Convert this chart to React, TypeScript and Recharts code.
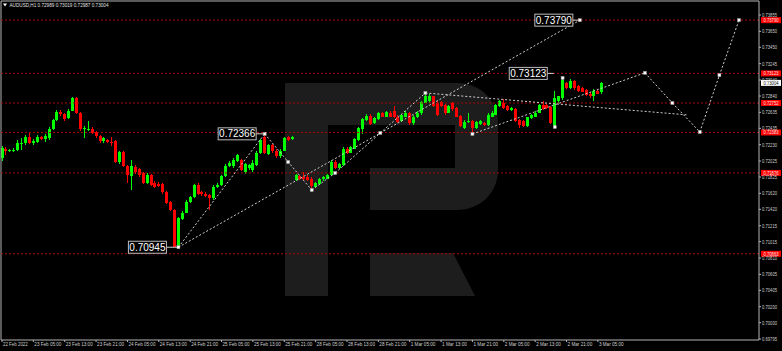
import React from 'react';
import { ComposedChart, Bar, XAxis, YAxis, ReferenceLine, ReferenceDot } from 'recharts';

const opens = [
  0.72063, 0.72176, 0.72157, 0.72151, 0.72163, 0.72245, 0.72251, 0.72327, 0.72251, 0.72264,
  0.72320, 0.72302, 0.72314, 0.72427, 0.72533, 0.72640, 0.72615, 0.72564, 0.72658, 0.72815,
  0.72627, 0.72427, 0.72421, 0.72427, 0.72389, 0.72339, 0.72270, 0.72289, 0.72264, 0.72270,
  0.72013, 0.72138, 0.71957, 0.71838, 0.71950, 0.71925, 0.71875, 0.71750, 0.71850, 0.71750,
  0.71737, 0.71737, 0.71637, 0.71512, 0.71411, 0.70948, 0.71299, 0.71380, 0.71506, 0.71575,
  0.71731, 0.71631, 0.71612, 0.71600, 0.71556, 0.71706, 0.71731, 0.71838, 0.71969, 0.71957,
  0.72026, 0.72038, 0.71888, 0.71938, 0.71913, 0.71975, 0.72126, 0.72327, 0.72113, 0.72226,
  0.72157, 0.72082, 0.72157, 0.72320, 0.72295, 0.71787, 0.71838, 0.71825, 0.71819, 0.71806,
  0.71706, 0.71737, 0.71794, 0.71806, 0.71850, 0.72019, 0.71944, 0.71975, 0.72182, 0.72132,
  0.72182, 0.72289, 0.72427, 0.72539, 0.72590, 0.72496, 0.72546, 0.72621, 0.72583, 0.72633,
  0.72652, 0.72583, 0.72521, 0.72583, 0.72621, 0.72496, 0.72571, 0.72621, 0.72758, 0.72771,
  0.72834, 0.72746, 0.72765, 0.72727, 0.72633, 0.72746, 0.72684, 0.72590, 0.72433, 0.72508,
  0.72521, 0.72433, 0.72489, 0.72496, 0.72477, 0.72583, 0.72608, 0.72709, 0.72758, 0.72709,
  0.72665, 0.72677, 0.72539, 0.72521, 0.72458, 0.72558, 0.72583, 0.72633, 0.72727, 0.72721,
  0.72696, 0.72458, 0.72771, 0.72809, 0.72997, 0.72934, 0.73028, 0.72959, 0.72934, 0.72915,
  0.72871, 0.72846, 0.72903, 0.72884,
];
const highs = [
  0.72214, 0.72201, 0.72176, 0.72189, 0.72289, 0.72314, 0.72352, 0.72377, 0.72302, 0.72352,
  0.72340, 0.72364, 0.72452, 0.72552, 0.72665, 0.72665, 0.72627, 0.72677, 0.72828, 0.72828,
  0.72640, 0.72464, 0.72521, 0.72452, 0.72402, 0.72352, 0.72327, 0.72302, 0.72327, 0.72289,
  0.72151, 0.72151, 0.71975, 0.72038, 0.71975, 0.71938, 0.71888, 0.71875, 0.71863, 0.71775,
  0.71763, 0.71750, 0.71650, 0.71524, 0.71424, 0.71324, 0.71399, 0.71537, 0.71587, 0.71737,
  0.71750, 0.71650, 0.71637, 0.71612, 0.71725, 0.71750, 0.71850, 0.71988, 0.72026, 0.72063,
  0.72113, 0.72050, 0.72000, 0.71988, 0.72038, 0.72151, 0.72302, 0.72366, 0.72239, 0.72239,
  0.72170, 0.72176, 0.72327, 0.72333, 0.72333, 0.71863, 0.71850, 0.71888, 0.71850, 0.71825,
  0.71763, 0.71812, 0.71838, 0.71863, 0.72038, 0.72038, 0.72000, 0.72201, 0.72201, 0.72214,
  0.72314, 0.72452, 0.72564, 0.72615, 0.72615, 0.72577, 0.72640, 0.72640, 0.72658, 0.72652,
  0.72715, 0.72596, 0.72615, 0.72652, 0.72640, 0.72596, 0.72652, 0.72778, 0.72882, 0.72859,
  0.72846, 0.72771, 0.72778, 0.72740, 0.72727, 0.72765, 0.72696, 0.72602, 0.72539, 0.72627,
  0.72539, 0.72527, 0.72539, 0.72508, 0.72627, 0.72652, 0.72740, 0.72784, 0.72802, 0.72727,
  0.72702, 0.72690, 0.72552, 0.72533, 0.72583, 0.72615, 0.72652, 0.72740, 0.72778, 0.72740,
  0.72709, 0.72902, 0.72846, 0.73066, 0.73016, 0.73053, 0.73041, 0.72978, 0.72947, 0.72928,
  0.72884, 0.72922, 0.72915, 0.73019,
];
const lows = [
  0.72026, 0.72101, 0.72138, 0.72138, 0.72151, 0.72163, 0.72226, 0.72239, 0.72226, 0.72251,
  0.72289, 0.72264, 0.72289, 0.72414, 0.72527, 0.72590, 0.72527, 0.72552, 0.72665, 0.72615,
  0.72402, 0.72308, 0.72402, 0.72364, 0.72314, 0.72251, 0.72251, 0.72245, 0.72214, 0.72000,
  0.71988, 0.71950, 0.71750, 0.71662, 0.71863, 0.71825, 0.71737, 0.71737, 0.71712, 0.71687,
  0.71700, 0.71612, 0.71486, 0.71399, 0.70942, 0.70945, 0.71286, 0.71374, 0.71499, 0.71562,
  0.71600, 0.71587, 0.71575, 0.71411, 0.71537, 0.71687, 0.71712, 0.71825, 0.71950, 0.71938,
  0.72013, 0.71900, 0.71863, 0.71913, 0.71888, 0.71963, 0.72113, 0.72113, 0.72101, 0.72132,
  0.72063, 0.72063, 0.72151, 0.72276, 0.72283, 0.71775, 0.71787, 0.71775, 0.71775, 0.71662,
  0.71687, 0.71725, 0.71781, 0.71794, 0.71838, 0.71925, 0.71925, 0.71963, 0.72113, 0.72120,
  0.72170, 0.72276, 0.72364, 0.72527, 0.72477, 0.72483, 0.72533, 0.72571, 0.72571, 0.72571,
  0.72558, 0.72502, 0.72508, 0.72571, 0.72477, 0.72477, 0.72558, 0.72608, 0.72746, 0.72758,
  0.72702, 0.72590, 0.72696, 0.72608, 0.72621, 0.72658, 0.72571, 0.72446, 0.72421, 0.72496,
  0.72364, 0.72421, 0.72477, 0.72464, 0.72464, 0.72571, 0.72596, 0.72696, 0.72671, 0.72652,
  0.72652, 0.72508, 0.72439, 0.72446, 0.72446, 0.72546, 0.72571, 0.72621, 0.72665, 0.72671,
  0.72483, 0.72452, 0.72758, 0.72790, 0.72922, 0.72922, 0.72915, 0.72890, 0.72884, 0.72840,
  0.72815, 0.72778, 0.72859, 0.72871,
];
const closes = [
  0.72188, 0.72151, 0.72163, 0.72163, 0.72251, 0.72251, 0.72327, 0.72251, 0.72270, 0.72320,
  0.72302, 0.72333, 0.72427, 0.72539, 0.72640, 0.72615, 0.72552, 0.72658, 0.72815, 0.72627,
  0.72427, 0.72433, 0.72427, 0.72377, 0.72339, 0.72270, 0.72308, 0.72258, 0.72260, 0.72013,
  0.72138, 0.71957, 0.71850, 0.71963, 0.71882, 0.71850, 0.71756, 0.71850, 0.71731, 0.71706,
  0.71712, 0.71631, 0.71499, 0.71411, 0.70954, 0.71311, 0.71380, 0.71512, 0.71575, 0.71725,
  0.71612, 0.71606, 0.71587, 0.71556, 0.71706, 0.71731, 0.71838, 0.71969, 0.72000, 0.72038,
  0.72095, 0.71913, 0.71988, 0.71975, 0.72000, 0.72132, 0.72283, 0.72126, 0.72226, 0.72145,
  0.72082, 0.72157, 0.72308, 0.72289, 0.72320, 0.71850, 0.71806, 0.71794, 0.71787, 0.71712,
  0.71744, 0.71794, 0.71819, 0.71850, 0.72019, 0.71944, 0.71988, 0.72182, 0.72132, 0.72195,
  0.72295, 0.72433, 0.72546, 0.72590, 0.72489, 0.72558, 0.72621, 0.72583, 0.72640, 0.72583,
  0.72571, 0.72514, 0.72602, 0.72633, 0.72496, 0.72583, 0.72633, 0.72765, 0.72834, 0.72840,
  0.72715, 0.72602, 0.72709, 0.72621, 0.72715, 0.72671, 0.72583, 0.72458, 0.72508, 0.72521,
  0.72433, 0.72508, 0.72521, 0.72477, 0.72602, 0.72633, 0.72727, 0.72771, 0.72684, 0.72665,
  0.72684, 0.72521, 0.72477, 0.72458, 0.72571, 0.72602, 0.72633, 0.72727, 0.72677, 0.72684,
  0.72496, 0.72809, 0.72834, 0.73041, 0.72934, 0.73028, 0.72934, 0.72903, 0.72896, 0.72853,
  0.72834, 0.72903, 0.72871, 0.73004,
];

const xTickIndex = [0, 8, 16, 24, 32, 40, 48, 56, 64, 72, 80, 88, 96, 104, 112, 120, 128, 136, 144, 152];
const xTickLabels = [
  '22 Feb 2022', '23 Feb 05:00', '23 Feb 13:00', '23 Feb 21:00', '24 Feb 05:00', '24 Feb 13:00',
  '24 Feb 21:00', '25 Feb 05:00', '25 Feb 13:00', '25 Feb 21:00', '28 Feb 05:00', '28 Feb 13:00',
  '28 Feb 21:00', '1 Mar 05:00', '1 Mar 13:00', '1 Mar 21:00', '2 Mar 05:00', '2 Mar 13:00',
  '2 Mar 21:00', '3 Mar 05:00',
];
const yTicks = [
  0.73855, 0.7365, 0.7345, 0.73245, 0.7304, 0.7284, 0.72635, 0.72435, 0.7223, 0.72025, 0.71825,
  0.7162, 0.7142, 0.71215, 0.71015, 0.7081, 0.70605, 0.70405, 0.702, 0.7, 0.69795,
];
const levelPrices = [0.7379, 0.73123, 0.72752, 0.72383, 0.71876, 0.70863];
const currentPrice = 0.73004;
const headerText = 'AUDUSD,H1  0.72989 0.73019 0.72987 0.73004';

// wave / forecast lines: [index1, price1, index2, price2]
const waveSegments = [
  [45, 0.70945, 147.4, 0.7379],
  [45, 0.70945, 67, 0.72366],
  [67, 0.72366, 79, 0.71662],
  [79, 0.71662, 85, 0.71875],
  [85, 0.71875, 108, 0.72878],
  [108, 0.72878, 175, 0.72602],
  [120, 0.72364, 164, 0.7313],
  [164, 0.7313, 171, 0.72752],
  [171, 0.72752, 178, 0.72389],
  [178, 0.72389, 183, 0.731],
  [183, 0.731, 188, 0.7379],
];
const waveMarkers = [
  [45, 0.70945], [67, 0.72366], [73, 0.72013], [79, 0.71662], [85, 0.71875], [96.5, 0.72377],
  [108, 0.72878], [120, 0.72364], [141, 0.72452], [143, 0.73066], [147.4, 0.7379],
  [164, 0.7313], [171, 0.72752], [178, 0.72389], [183, 0.731], [188, 0.7379],
];
const waveLabels = [
  { i: 45, p: 0.70945, text: '0.70945' },
  { i: 67, p: 0.72366, text: '0.72366' },
  { i: 141, p: 0.73123, text: '0.73123' },
  { i: 147.4, p: 0.7379, text: '0.73790' },
];
const labelGaps = [12, 8.5, 7.5, 7];

const SLOTS = 193;
const X_MIN = -0.255;
const X_MAX = 193.1;
const Y_MIN = 0.69783;
const Y_MAX = 0.7403;

const rows = Array.from({ length: SLOTS }, (_, i) =>
  i < opens.length
    ? { i, o: opens[i], h: highs[i], l: lows[i], c: closes[i], range: [lows[i], highs[i]] }
    : { i, range: null }
);

const FONT = '"Liberation Sans", Arial, sans-serif';

const Candle = (props: any) => {
  const { x, y, width, height, payload } = props;
  if (!payload || payload.h == null) return null;
  const { o, c, h, l } = payload;
  const top = Math.min(y, y + height);
  const hh = Math.abs(height);
  const ppu = h - l > 0 ? hh / (h - l) : 0;
  const cx = Math.round(x + width / 2) + 0.5;
  const yO = top + (h - o) * ppu;
  const yC = top + (h - c) * ppu;
  const up = c >= o;
  const color = up ? '#00ff00' : '#ff0000';
  const bTop = Math.min(yO, yC);
  const bH = Math.max(1, Math.abs(yO - yC));
  return (
    <g shapeRendering="crispEdges">
      <line x1={cx} x2={cx} y1={top} y2={top + hh} stroke={color} strokeWidth={1} />
      <rect x={cx - 1.5} y={bTop} width={3} height={bH} fill={color} />
    </g>
  );
};

const YTick = (props: any) => {
  const { x, y, payload } = props;
  return (
    <text
      x={x}
      y={y + 2}
      fontSize={5.5}
      fill="#cfcfcf"
      fontFamily={FONT}
      textAnchor="start"
      textLength={15}
      lengthAdjust="spacingAndGlyphs"
    >
      {payload.value.toFixed(5)}
    </text>
  );
};

const XTick = (props: any) => {
  const { x, y, payload } = props;
  const k = xTickIndex.indexOf(payload.value);
  const s = k >= 0 ? xTickLabels[k] : '';
  return (
    <text
      x={x + 1}
      y={y + 4}
      fontSize={5.5}
      fill="#cfcfcf"
      fontFamily={FONT}
      textAnchor="start"
      textLength={s.length * 2.25}
      lengthAdjust="spacingAndGlyphs"
    >
      {s}
    </text>
  );
};

const RightTag = (props: any) => {
  const { viewBox, text, bg, fg } = props;
  if (!viewBox) return null;
  const x = viewBox.x + viewBox.width + 2;
  const y = viewBox.y;
  return (
    <g>
      <rect x={x} y={y - 3} width={20} height={6} fill={bg} />
      <text
        x={x + 2.5}
        y={y + 2}
        fontSize={5.3}
        fill={fg}
        fontFamily={FONT}
        textLength={15}
        lengthAdjust="spacingAndGlyphs"
      >
        {text}
      </text>
    </g>
  );
};

const Marker = (props: any) => {
  const { cx, cy } = props;
  return <rect x={cx - 1.5} y={cy - 1.5} width={3} height={3} fill="#ffffff" stroke="#9a9a9a" strokeWidth={0.5} />;
};

const makeBoxLabel = (text: string, gap: number) => (props: any) => {
  const { cx, cy } = props;
  const w = 38;
  const right = cx - gap;
  return (
    <g>
      <line x1={right} y1={cy} x2={cx - 1} y2={cy} stroke="#d0d0d0" strokeWidth={1} />
      <rect x={right - w} y={cy - 6} width={w} height={12} fill="#000" stroke="#bdbdbd" strokeWidth={1} />
      <text x={right - w / 2} y={cy + 3.5} fontSize={10} fill="#ffffff" fontFamily={FONT} textAnchor="middle">
        {text}
      </text>
    </g>
  );
};

const Watermark = () => (
  <svg width={782} height={351} style={{ position: 'absolute', left: 0, top: 0 }}>
    <g fill="#1d1d1d">
      <rect x={285} y={83} width={43} height={213} />
      <path d="M285,83 H457 C480,83 498,100 498,123 V170 C498,193 480,210 457,210 H370 V168 H455 V125 H285 Z" />
      <path d="M370,253 H453 L475,296 H370 Z" />
    </g>
  </svg>
);

export default function App() {
  return (
    <div style={{ position: 'fixed', left: 0, top: 0, width: 782, height: 351, background: '#000', overflow: 'hidden' }}>
      <Watermark />
      <div style={{ position: 'absolute', left: 0, top: 0 }}>
        <ComposedChart width={782} height={351} data={rows} margin={{ top: 1, right: 0, bottom: 0, left: 1 }}>
          <XAxis
            type="number"
            dataKey="i"
            domain={[X_MIN, X_MAX]}
            allowDataOverflow
            ticks={xTickIndex}
            interval={0}
            tick={<XTick />}
            tickSize={2}
            tickMargin={0}
            height={11}
            axisLine={{ stroke: '#b4b4b4' }}
            tickLine={{ stroke: '#b4b4b4' }}
          />
          <YAxis
            orientation="right"
            type="number"
            domain={[Y_MIN, Y_MAX]}
            allowDataOverflow
            ticks={yTicks}
            interval={0}
            tick={<YTick />}
            tickSize={2}
            tickMargin={1}
            width={23}
            axisLine={{ stroke: '#b4b4b4' }}
            tickLine={{ stroke: '#b4b4b4' }}
          />
          <ReferenceLine y={Y_MAX} stroke="#b4b4b4" />
          <ReferenceLine x={X_MIN} stroke="#b4b4b4" />
          {levelPrices.map((v) => (
            <ReferenceLine
              key={'lv' + v}
              y={v}
              stroke="#b00000"
              strokeDasharray="2 2"
              label={<RightTag text={v.toFixed(5)} bg="#ff0000" fg="#ffe0e0" />}
            />
          ))}
          <ReferenceLine
            y={currentPrice}
            stroke="none"
            label={<RightTag text={currentPrice.toFixed(5)} bg="#ffffff" fg="#000000" />}
          />
          <Bar dataKey="range" barSize={3} isAnimationActive={false} shape={<Candle />} />
          {waveSegments.map((s, k) => (
            <ReferenceLine
              key={'seg' + k}
              segment={[{ x: s[0], y: s[1] }, { x: s[2], y: s[3] }]}
              stroke="#cfcfcf"
              strokeDasharray="2 2"
              ifOverflow="visible"
            />
          ))}
          {waveMarkers.map((m, k) => (
            <ReferenceDot key={'mk' + k} x={m[0]} y={m[1]} r={2} ifOverflow="visible" shape={Marker} />
          ))}
          {waveLabels.map((lb, k) => (
            <ReferenceDot
              key={'lb' + k}
              x={lb.i}
              y={lb.p}
              r={2}
              ifOverflow="visible"
              shape={makeBoxLabel(lb.text, labelGaps[k])}
            />
          ))}
        </ComposedChart>
      </div>
      <svg width={200} height={12} style={{ position: 'absolute', left: 0, top: 0 }}>
        <polygon points="3,3.5 7,3.5 5,6.5" fill="#ffffff" />
        <text
          x={9.5}
          y={7}
          fontSize={5.5}
          fill="#e0e0e0"
          fontFamily={FONT}
          textLength={99}
          lengthAdjust="spacingAndGlyphs"
        >
          {headerText}
        </text>
      </svg>
    </div>
  );
}
